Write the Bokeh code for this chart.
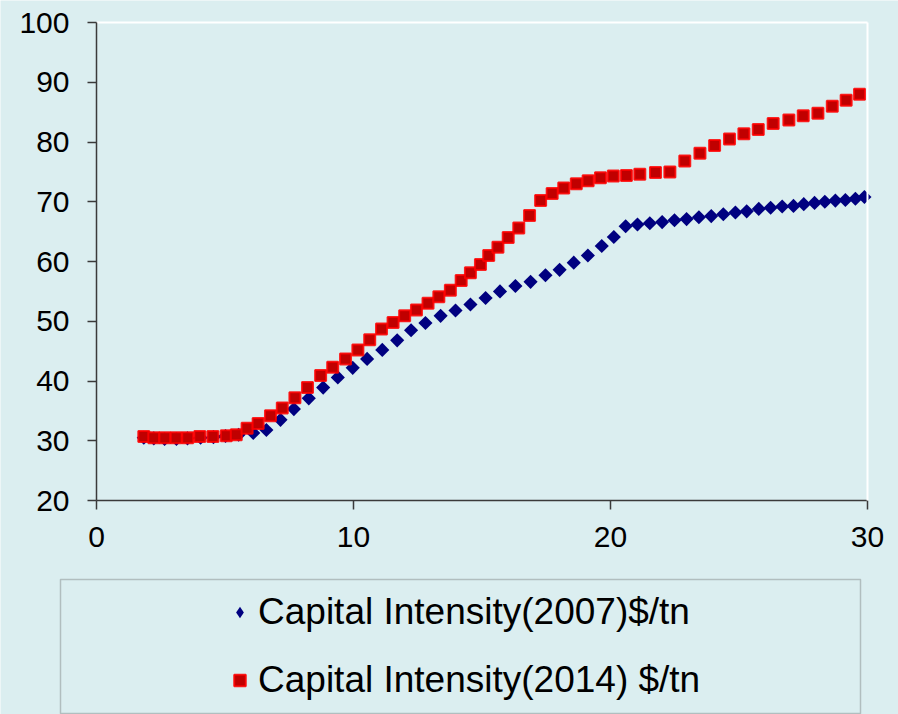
from bokeh.plotting import figure
from bokeh.models import (Range1d, FixedTicker, Legend, LegendItem, BoxAnnotation,
                          LinearAxis)
from bokeh.embed import file_html
from bokeh.resources import INLINE
import math

# Capital intensity curves ($/tn) against cumulative capacity
x_2007 = [1.84, 2.23, 2.65, 3.11, 3.54, 4.05, 4.55, 5.02, 5.53, 6.10,
          6.61, 7.16, 7.68, 8.26, 8.82, 9.39, 9.97, 10.53, 11.12, 11.70,
          12.24, 12.80, 13.39, 13.97, 14.55, 15.14, 15.70, 16.30, 16.89, 17.47,
          18.02, 18.57, 19.12, 19.66, 20.13, 20.59, 21.05, 21.53, 22.01, 22.49,
          22.96, 23.44, 23.92, 24.39, 24.86, 25.30, 25.77, 26.23, 26.68, 27.12,
          27.52, 27.94, 28.34, 28.75, 29.14, 29.53, 29.88]
y_2007 = [30.5, 30.4, 30.3, 30.3, 30.4, 30.5, 30.6, 30.8, 31.0, 31.3,
          31.8, 33.5, 35.3, 37.1, 38.9, 40.6, 42.2, 43.7, 45.2, 46.8,
          48.5, 49.7, 50.9, 51.8, 52.8, 53.9, 55.0, 55.9, 56.6, 57.7,
          58.6, 59.8, 61.0, 62.6, 64.1, 65.9, 66.2, 66.4, 66.6, 66.9,
          67.1, 67.4, 67.6, 67.9, 68.2, 68.4, 68.8, 69.0, 69.2, 69.3,
          69.6, 69.8, 70.0, 70.2, 70.3, 70.5, 70.8]

x_2014 = [1.84, 2.23, 2.66, 3.10, 3.55, 4.02, 4.53, 5.05, 5.44, 5.86,
          6.29, 6.77, 7.23, 7.72, 8.21, 8.72, 9.19, 9.69, 10.17, 10.63,
          11.09, 11.54, 11.99, 12.45, 12.90, 13.32, 13.77, 14.19, 14.55, 14.94,
          15.26, 15.62, 16.02, 16.43, 16.85, 17.28, 17.73, 18.18, 18.67, 19.13,
          19.61, 20.11, 20.62, 21.14, 21.75, 22.31, 22.89, 23.48, 24.05, 24.63,
          25.19, 25.75, 26.33, 26.94, 27.50, 28.07, 28.63, 29.17, 29.69]
y_2014 = [30.7, 30.5, 30.5, 30.5, 30.5, 30.7, 30.7, 30.85, 31.0, 32.1,
          32.9, 34.2, 35.5, 37.2, 38.9, 40.9, 42.3, 43.7, 45.2, 46.9,
          48.7, 49.8, 50.9, 51.9, 53.0, 54.1, 55.2, 56.8, 58.1, 59.5,
          61.0, 62.4, 64.0, 65.6, 67.7, 70.2, 71.4, 72.3, 73.0, 73.5,
          74.0, 74.3, 74.4, 74.6, 74.9, 75.0, 76.8, 78.1, 79.4, 80.5,
          81.4, 82.1, 83.1, 83.7, 84.4, 84.8, 86.0, 87.0, 88.0]

x_ticks = [0, 10, 20, 30]
y_ticks = [20, 30, 40, 50, 60, 70, 80, 90, 100]
x_lo, x_hi = 0, 30
y_lo, y_hi = 20, 100
labels = ["Capital Intensity(2007)$/tn", "Capital Intensity(2014) $/tn"]

BG = "#DBEEF0"
NAVY = "#000080"
FONT = "Liberation Sans"
W, H = 898, 714
# plot box inside the canvas (pixels): left, right, top, bottom
PL, PR, PT, PB = 96, 867, 22, 500

# the frame fills the whole canvas, so the ranges are widened to keep the
# data box at PL..PR / PT..PB and leave room for the legend underneath
sx = (x_hi - x_lo) / (PR - PL)
sy = (y_hi - y_lo) / (PB - PT)
x_range = Range1d(x_lo - PL * sx, x_hi + (W - PR) * sx)
y_range = Range1d(y_lo - (H - PB) * sy, y_hi + PT * sy)

p = figure(width=W, height=H, output_backend="svg", toolbar_location=None,
           x_range=x_range, y_range=y_range, x_axis_location=None,
           y_axis_location=None, min_border=0)
p.background_fill_color = BG
p.border_fill_color = BG
p.outline_line_color = None
p.grid.visible = False


def styled_axis(ticks, bounds, loc, color, width):
    ax = LinearAxis(fixed_location=loc, bounds=bounds,
                    ticker=FixedTicker(ticks=ticks))
    ax.minor_tick_line_color = None
    ax.axis_line_color = color
    ax.axis_line_width = width
    ax.major_tick_line_color = color
    ax.major_tick_line_width = width
    ax.major_tick_in = 0
    ax.major_tick_out = 9
    ax.major_label_text_font = FONT
    ax.major_label_text_font_size = "30px"
    ax.major_label_text_color = "black"
    return ax


xaxis = styled_axis(x_ticks, (x_lo, x_hi), y_lo, "#3a3a3a", 1.5)
xaxis.major_label_standoff = 17
yaxis = styled_axis(y_ticks, (y_lo, y_hi), x_lo, "#3a3a3a", 1.5)
yaxis.major_label_standoff = 18
# white edges on the top and right of the plot box
top_edge = styled_axis([], (x_lo, x_hi), y_hi, "white", 2)
right_edge = styled_axis([], (y_lo, y_hi), x_hi, "white", 2)
p.add_layout(top_edge, "above")
p.add_layout(right_edge, "right")
p.add_layout(xaxis, "below")
p.add_layout(yaxis, "left")

# small diamond key for the 2007 series; it sits fully under the rotated
# squares below and only shows up as the legend swatch
key07 = p.scatter(x_2007, y_2007, marker="diamond", size=8,
                  fill_color=NAVY, line_color=NAVY, line_width=0)
r07 = p.scatter(x_2007, y_2007, marker="square", angle=math.pi / 4, size=10,
                fill_color=NAVY, line_color=NAVY, line_width=0)
r14 = p.scatter(x_2014, y_2014, marker="square", size=11,
                fill_color="#C00000", line_color="#FF0000", line_alpha=0.85,
                line_width=2)

# legend frame under the plot box
p.add_layout(BoxAnnotation(left=60, right=860, top=579, bottom=713,
                           left_units="canvas", right_units="canvas",
                           top_units="canvas", bottom_units="canvas",
                           fill_alpha=0, line_color="#505050", line_width=1.5))

legend = Legend(items=[LegendItem(label=labels[0], renderers=[key07]),
                       LegendItem(label=labels[1], renderers=[r14])],
                location=(225, 11), orientation="vertical",
                padding=0, spacing=22, glyph_width=29, glyph_height=46,
                label_height=46, label_standoff=4,
                label_text_font=FONT, label_text_font_size="37px",
                label_text_color="black",
                background_fill_alpha=0, border_line_alpha=0)
p.add_layout(legend, "center")

open("out.html", "w").write(file_html(p, INLINE))
